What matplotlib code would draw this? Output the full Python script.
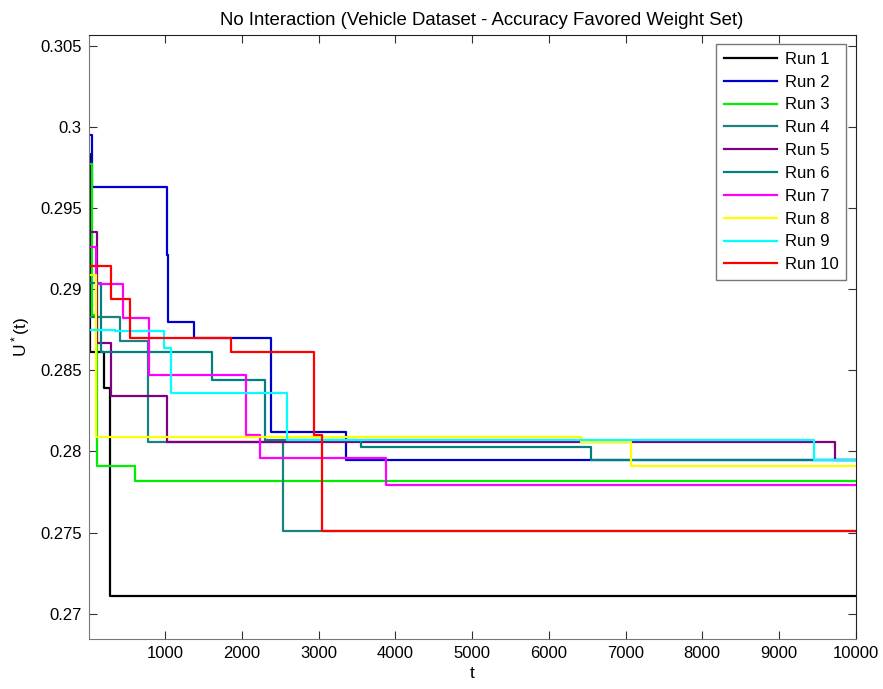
import matplotlib
matplotlib.use("Agg")
import matplotlib.pyplot as plt
from matplotlib.ticker import FuncFormatter

plt.rcParams["font.family"] = ["Liberation Sans", "DejaVu Sans"]
plt.rcParams["mathtext.default"] = "regular"

# step points: iteration where the best value changes, and the new value
run_labels = ["Run %d" % i for i in range(1, 11)]
run_colors = ["#000000", "#0000cc", "#00ee00", "#1a8080", "#800080",
              "#008080", "#ff00ff", "#ffff00", "#00ffff", "#ff0000"]

run1_t = [1, 13, 196, 274]
run1_u = [0.2983, 0.2861, 0.2839, 0.2711]
run2_t = [1, 50, 1026, 1040, 1374, 2383, 3361]
run2_u = [0.2995, 0.2963, 0.2921, 0.2880, 0.2870, 0.2812, 0.2795]
run3_t = [1, 50, 108, 600]
run3_u = [0.2977, 0.2884, 0.2791, 0.2782]
run4_t = [1, 404, 774, 2535]
run4_u = [0.2883, 0.2868, 0.2806, 0.2751]
run5_t = [1, 105, 287, 1026, 9730]
run5_u = [0.2935, 0.2867, 0.2834, 0.2806, 0.2795]
run6_t = [1, 165, 1613, 2296, 3548, 6548]
run6_u = [0.2904, 0.2861, 0.2844, 0.2807, 0.2803, 0.2795]
run7_t = [1, 100, 448, 787, 2057, 2230, 3883]
run7_u = [0.2926, 0.2903, 0.2882, 0.2847, 0.2810, 0.2796, 0.2779]
run8_t = [1, 100, 6417, 7065]
run8_u = [0.2909, 0.2809, 0.2806, 0.2791]
run9_t = [1, 339, 978, 1070, 2587, 9461]
run9_u = [0.2875, 0.2874, 0.2864, 0.2836, 0.2807, 0.2795]
run10_t = [1, 287, 535, 1861, 2939, 3048]
run10_u = [0.2914, 0.2894, 0.2870, 0.2861, 0.2810, 0.2751]

runs_t = [run1_t, run2_t, run3_t, run4_t, run5_t, run6_t, run7_t, run8_t, run9_t, run10_t]
runs_u = [run1_u, run2_u, run3_u, run4_u, run5_u, run6_u, run7_u, run8_u, run9_u, run10_u]
t_end = 10000

fig = plt.figure(figsize=(8.83, 6.89), dpi=100)
ax = fig.add_axes([0.1005, 0.0726, 0.8685, 0.8765])

for t, u, lab, col in zip(runs_t, runs_u, run_labels, run_colors):
    ax.step(t + [t_end], u + [u[-1]], where="post", color=col, lw=1.6, label=lab)

ax.set_xlim(1, 10000)
ax.set_ylim(0.26844, 0.30566)
ax.set_xticks(range(1000, 10001, 1000))
ax.set_yticks([0.27 + 0.005 * i for i in range(8)])
ax.yaxis.set_major_formatter(FuncFormatter(lambda v, p: "%g" % round(v, 4)))
ax.tick_params(direction="in", length=6, top=True, right=True, labelsize=12,
               color="#333333", pad=5)
for side in ["left", "bottom"]:
    ax.spines[side].set_color("#777777")
for side in ["top", "right"]:
    ax.spines[side].set_color("#222222")

ax.set_title("No Interaction (Vehicle Dataset - Accuracy Favored Weight Set)",
             fontsize=13.4, pad=7, x=0.513)
ax.set_xlabel("t", fontsize=12.5, labelpad=4)
ax.set_ylabel("U$^*$(t)", fontsize=12.5, labelpad=6)

leg = ax.legend(loc="upper right", fontsize=12, frameon=True, fancybox=False,
                handlelength=3.2, handletextpad=0.5, labelspacing=0.47,
                borderaxespad=0.55, borderpad=0.45)
leg.get_frame().set_edgecolor("#555555")
leg.get_frame().set_linewidth(1.0)
for line in leg.get_lines():
    line.set_linewidth(1.6)

fig.savefig("out.png", dpi=100)
